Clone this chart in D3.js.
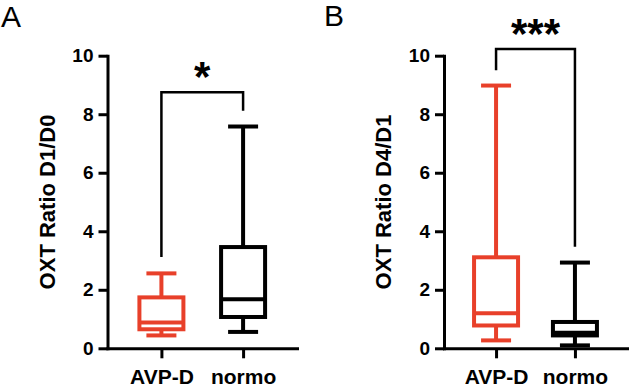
<!doctype html>
<html>
<head>
<meta charset="utf-8">
<script src="https://d3js.org/d3.v7.min.js"></script>
<style>
    body { margin: 0; background: #fff; }
    text { font-family: "Liberation Sans", Arial, Helvetica, sans-serif; }
</style>
</head>
<body>
<svg width="633" height="387"></svg>
<script>

    // groups and colours
    var groups = ["AVP-D", "normo"],
        groupColors = ["#E8402A", "#000000"];

    // box summaries per panel: [AVP-D, normo]
    var panelA_min = [0.44, 0.56],
        panelA_q1  = [0.65, 1.07],
        panelA_med = [0.88, 1.68],
        panelA_q3  = [1.74, 3.46],
        panelA_max = [2.56, 7.58];

    var panelB_min = [0.27, 0.10],
        panelB_q1  = [0.78, 0.44],
        panelB_med = [1.20, 0.53],
        panelB_q3  = [3.11, 0.90],
        panelB_max = [8.98, 2.93];

    var yTicks = [0, 2, 4, 6, 8, 10];
    var panelLetters = ["A", "B"],
        yTitles = ["OXT Ratio D1/D0", "OXT Ratio D4/D1"];

    // significance brackets: height of bar, where each leg stops
    var sigLabels = ["*", "***"],
        bracketTop = [8.75, 10.23],
        bracketLeft = [3.12, 9.5],
        bracketRight = [8.12, 3.47];

    var svg = d3.select("svg");

    var panels = [
        { x0: 107.5, x1: 297, letterX: 1, letterY: 27,
          min: panelA_min, q1: panelA_q1, med: panelA_med, q3: panelA_q3, max: panelA_max },
        { x0: 444, x1: 627, letterX: 324, letterY: 26,
          min: panelB_min, q1: panelB_q1, med: panelB_med, q3: panelB_q3, max: panelB_max }
    ];

    var yScale = d3.scaleLinear().domain([0, 10]).range([348.3, 55.7]);

    panels.forEach(function(p, pi) {
        var g = svg.append("g");

        var xScale = d3.scalePoint().domain(groups).range([p.x0, p.x1]).padding(0.66);

        svg.append("text")
           .attr("x", p.letterX)
           .attr("y", p.letterY)
           .attr("font-size", "30px")
           .text(panelLetters[pi]);

        // y axis
        var yAxis = g.append("g")
         .attr("transform", "translate(" + p.x0 + ",0)")
         .call(d3.axisLeft(yScale).tickValues(yTicks).tickSize(9).tickPadding(5).tickSizeOuter(0));
        yAxis.selectAll("text")
         .attr("font-size", "19px")
         .attr("font-weight", "bold")
         .attr("fill", "#000");

        // x axis
        var xAxis = g.append("g")
         .attr("transform", "translate(0," + yScale(0) + ")")
         .call(d3.axisBottom(xScale).tickSize(10).tickPadding(11).tickSizeOuter(0));
        xAxis.selectAll("text")
         .attr("font-size", "21px")
         .attr("font-weight", "bold")
         .attr("fill", "#000");

        g.selectAll(".domain, .tick line")
         .attr("stroke", "#000")
         .attr("stroke-width", 3);
        g.selectAll(".domain").attr("stroke-linecap", "square");

        g.append("text")
         .attr("transform", "rotate(-90)")
         .attr("x", -(yScale(0) + yScale(10)) / 2)
         .attr("y", p.x0 - 53)
         .attr("text-anchor", "middle")
         .attr("font-size", "22px")
         .attr("font-weight", "bold")
         .text(yTitles[pi]);

        // boxes
        var boxW = 44, capW = 30;
        groups.forEach(function(name, i) {
            var cx = xScale(name), col = groupColors[i];
            var b = g.append("g")
                     .attr("stroke", col)
                     .attr("stroke-width", 4)
                     .attr("fill", "none");
            b.append("line")
             .attr("x1", cx).attr("x2", cx)
             .attr("y1", yScale(p.min[i])).attr("y2", yScale(p.max[i]));
            [p.min[i], p.max[i]].forEach(function(v) {
                b.append("line")
                 .attr("x1", cx - capW / 2).attr("x2", cx + capW / 2)
                 .attr("y1", yScale(v)).attr("y2", yScale(v));
            });
            b.append("rect")
             .attr("x", cx - boxW / 2)
             .attr("y", yScale(p.q3[i]))
             .attr("width", boxW)
             .attr("height", yScale(p.q1[i]) - yScale(p.q3[i]))
             .attr("fill", "#fff");
            b.append("line")
             .attr("x1", cx - boxW / 2).attr("x2", cx + boxW / 2)
             .attr("y1", yScale(p.med[i])).attr("y2", yScale(p.med[i]));
        });

        // significance bracket
        var xl = xScale(groups[0]), xr = xScale(groups[1]);
        g.append("path")
         .attr("d", "M" + xl + "," + yScale(bracketLeft[pi]) +
                    "V" + yScale(bracketTop[pi]) +
                    "H" + xr +
                    "V" + yScale(bracketRight[pi]))
         .attr("fill", "none")
         .attr("stroke", "#000")
         .attr("stroke-width", 2.5);

        g.append("text")
         .attr("x", (xl + xr) / 2)
         .attr("y", yScale(bracketTop[pi]) - 1)
         .attr("text-anchor", "middle")
         .attr("font-size", "42px")
         .attr("font-weight", "bold")
         .text(sigLabels[pi]);
    });

</script>
</body>
</html>
